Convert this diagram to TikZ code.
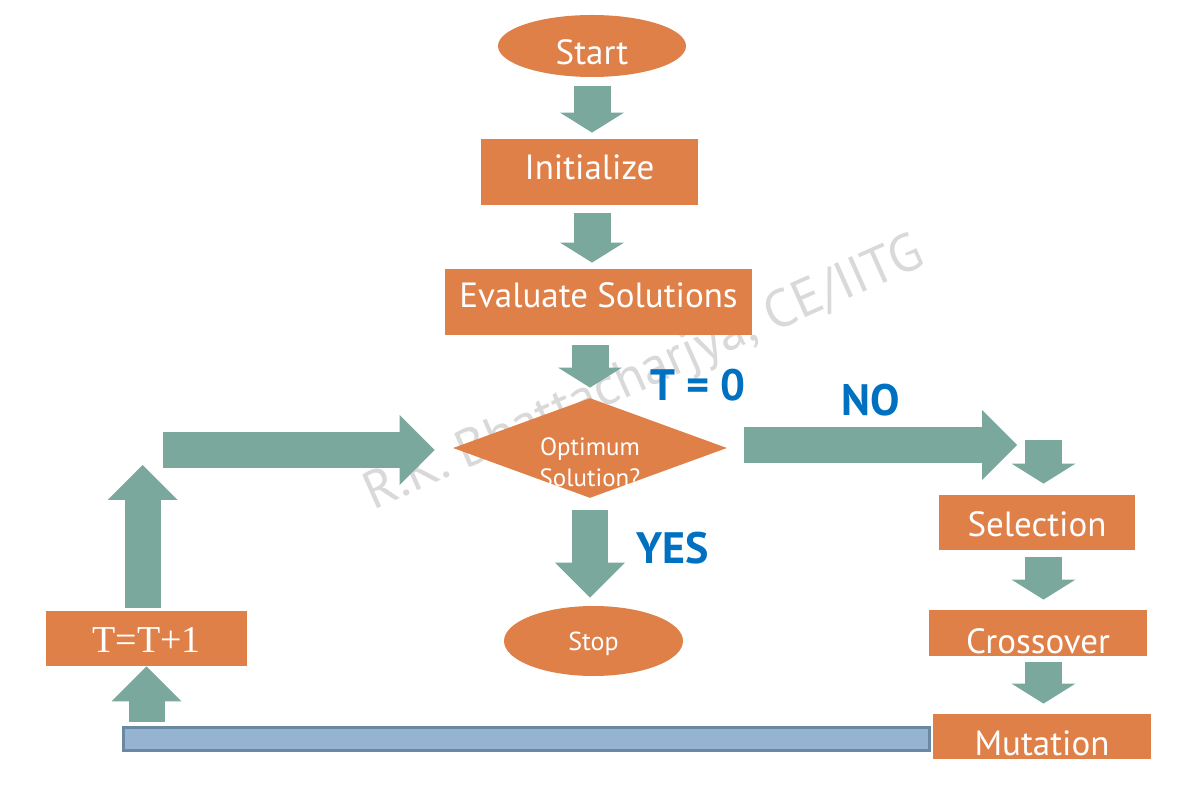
\documentclass[tikz,border=0pt]{standalone}
\usepackage{fontspec}
\setmainfont{PT Sans}
\newfontfamily\timesfont{Liberation Serif}
\usepackage{tikz}
\usetikzlibrary{arrows.meta}
\usetikzlibrary{shapes.geometric}
\usetikzlibrary{positioning}
\definecolor{boxorange}{HTML}{DE8048}
\definecolor{arrowgreen}{HTML}{7BA89D}
\definecolor{barblue}{HTML}{95B4D1}
\definecolor{barline}{HTML}{6A88A3}
\definecolor{textblue}{HTML}{0070C0}
\definecolor{markgray}{HTML}{D9D9D9}

\begin{document}
\begin{tikzpicture}
	[x=0.5pt, y=-0.5pt,
	procbox/.style={rectangle, fill=boxorange, text=white, inner sep=0pt, text depth=0pt, font=\fontsize{17.5}{20}\selectfont},
	termbox/.style={ellipse, fill=boxorange, text=white, inner sep=0pt, text depth=0pt},
	decide/.style={diamond, fill=boxorange, inner sep=0pt},
	smallflow/.style={draw=arrowgreen, line width=18.5pt, -{Triangle[length=10pt, width=32pt, line width=0pt]}},
	bigflow/.style={draw=arrowgreen, line width=18pt, -{Triangle[length=17.5pt, width=35pt, line width=0pt]}},
	answer/.style={text=textblue, font=\fontsize{22}{25}\selectfont\bfseries}]
	\useasboundingbox (0,0) rectangle (1181,795);
	\node[rotate=24, text=markgray, font=\fontsize{26.5}{30}\selectfont] (mark) at (645,375) {R.K. Bhattacharjya, CE/IITG};

	\node[termbox, minimum width=94pt, minimum height=31pt, text height=19pt, font=\fontsize{17.5}{20}\selectfont] (start) at (592,46) {Start};
	\node[procbox, minimum width=108.5pt, minimum height=33pt, text height=8pt] (init) at (589.5,172) {Initialize};
	\node[procbox, minimum width=153.5pt, minimum height=33pt, text height=6pt] (eval) at (598.5,302) {Evaluate Solutions};
	\node[decide, minimum width=137pt, minimum height=50pt] (dec) at (590,448) {};
	\node[text=white, align=center, font=\fontsize{12.5}{15.5}\selectfont] (dectext) at (590,462) {Optimum\\Solution?};
	\node[termbox, minimum width=89.5pt, minimum height=35pt, text height=9pt, font=\fontsize{13}{15}\selectfont] (stop) at (593.5,641) {Stop};
	\node[procbox, minimum width=100.5pt, minimum height=27.5pt, text height=13.5pt, font=\fontsize{19}{22}\timesfont] (tt) at (146.5,638.5) {T=T+1};
	\node[procbox, minimum width=98pt, minimum height=27.5pt, text height=14.5pt] (sel) at (1037,522.5) {Selection};
	\node[procbox, minimum width=109pt, minimum height=23pt, text height=20pt] (cross) at (1038,633) {Crossover};
	\node[procbox, minimum width=109pt, minimum height=22.5pt, text height=18.5pt] (mut) at (1042,736.5) {Mutation};
	\node[rectangle, fill=barblue, draw=barline, line width=1.5pt, minimum width=403pt, minimum height=11.5pt, inner sep=0pt] (bar) at (526,738.5) {};

	\node[answer] (tzero) at (698,385) {T = 0};
	\node[answer] (no) at (871,400) {NO};
	\node[answer] (yes) at (673,548) {YES};

	\coordinate (upend) at (142.5,465);
	\coordinate (corner) at (163,450);
	\coordinate (noend) at (1017,445);
	\coordinate (selin) at (1043.5,440);

	\draw[smallflow, shorten <=4.5pt, shorten >=3pt] (start.south) -- (start.south |- init.north);
	\draw[smallflow, shorten <=4pt, shorten >=3pt] (init.south -| start) -- (eval.north -| start);
	\draw[smallflow, shorten <=5pt, shorten >=5pt] (eval.south -| dec) -- (dec.north);
	\draw[bigflow, shorten <=6pt, shorten >=4pt] (dec.south) -- (dec.south |- stop.north);
	\draw[bigflow, shorten <=1.5pt] (upend |- tt.north) -- (upend);
	\draw[bigflow, shorten >=9pt] (corner) -- (corner -| dec.west);
	\draw[bigflow, shorten <=8.5pt] (noend -| dec.east) -- (noend);
	\draw[smallflow, shorten >=5.5pt] (selin) -- (selin |- sel.north);
	\draw[smallflow, shorten <=3.5pt, shorten >=5pt] (sel.south -| selin) -- (cross.north -| selin);
	\draw[smallflow, shorten <=3pt, shorten >=5pt] (cross.south -| selin) -- (mut.north -| selin);
	\draw[bigflow, shorten <=2pt] (bar.north -| tt.south) -- (tt.south);
\end{tikzpicture}
\end{document}
